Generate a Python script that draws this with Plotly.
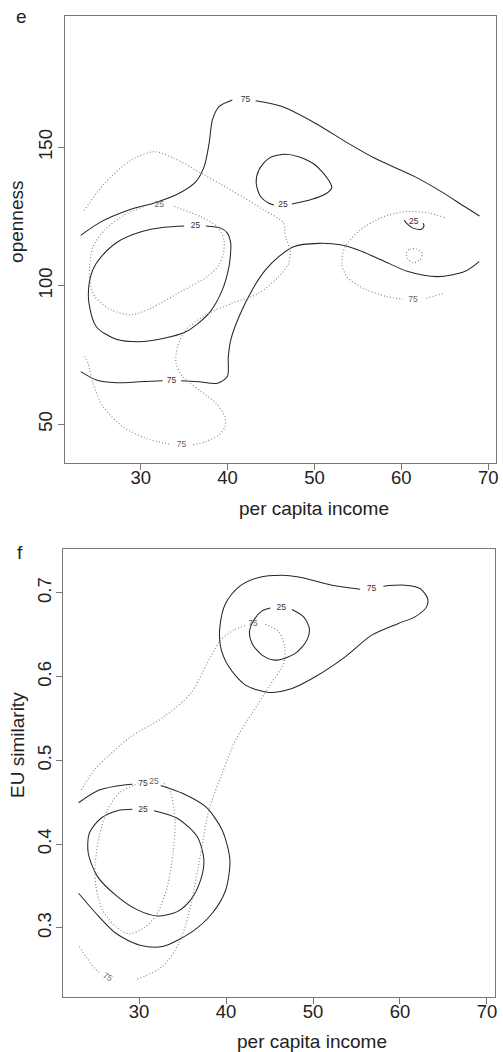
import plotly.graph_objects as go

# ---------------- Panel e: openness vs per capita income ----------------
# solid contours (group 1)
e_s75_top_x = [23.09, 25.27, 28.7, 31.76, 34.43, 36.35, 37.30, 37.87, 38.25, 39.01, 40.54, None,
               43.22, 46.27, 50.09, 53.9, 56.96, 61.55, 64.59, 67.27, 69.0]
e_s75_top_y = [118.2, 122.8, 127.4, 130.1, 133.4, 137.6, 143.0, 151.4, 159.9, 164.7, 167.1, None,
               166.8, 164.7, 158.7, 151.4, 146.0, 139.4, 134.0, 128.6, 125.2]

e_s25_mid_x = [47.41, 49.70, 51.42, 51.99, 51.62, 50.09, 48.18, 46.46, 44.74, 43.60, 43.29, 43.79, 44.74, 45.31]
e_s25_mid_y = [129.5, 131.2, 133.4, 135.4, 138.2, 143.6, 146.6, 147.5, 146.0, 141.8, 137.0, 132.2, 129.8, 129.2]

e_s25_left_x = [37.49, 39.21, 39.97, 40.36, 40.36, 40.16, 39.39, 37.87, 35.2, 32.14, 29.85, 27.18, 24.89,
                24.04, 24.04, 24.47, 25.46, 27.37, 30.05, 32.71, 35.0]
e_s25_left_y = [121.6, 120.8, 119.0, 115.3, 112.9, 106.9, 98.5, 90.1, 83.4, 80.7, 79.8, 80.7, 85.2,
                93.7, 100.3, 105.7, 110.5, 115.9, 119.5, 121.1, 121.6]

e_s75_low_x = [23.09, 24.89, 27.18, 29.85, 32.52, None, 34.63, 36.72, 38.82, 39.97, 40.08, 40.36, 41.31,
               42.83, 44.36, 45.89, 47.6, 50.47, 53.14, 55.05, 57.72, 60.77, 64.2, 67.27, 68.97]
e_s75_low_y = [69.0, 66.0, 65.0, 65.3, 65.7, None, 65.7, 65.3, 64.8, 67.2, 74.4, 80.4, 88.8,
               98.5, 105.7, 110.5, 114.1, 115.3, 114.7, 112.9, 109.3, 105.1, 103.3, 105.1, 108.7]

e_s25_small_x = [60.33, 60.67, 61.35, 62.3, 62.61, 62.5]
e_s25_small_y = [123.7, 122.3, 120.8, 120.4, 121.6, 122.6]

# dotted contours (group 2)
e_d75_big_x = [23.47, 25.84, 28.9, 31.57, 33.86, 37.30, 40.36, 44.17, 46.46, 46.65, 47.23, 47.03, 45.89,
               43.6, 40.54, 37.49, 35.2, 34.24, 34.06, 34.81, 36.72, 38.64, 39.7, 39.7, 39.01, 37.49,
               35.96, None, 33.29, 30.62, 27.94, 25.65, 24.5, 23.93, 23.55]
e_d75_big_y = [127.1, 137.0, 145.4, 148.4, 146.0, 140.0, 134.6, 127.4, 122.6, 117.7, 112.9, 108.1, 103.3,
               97.3, 93.7, 89.5, 84.0, 78.0, 72.0, 67.2, 62.4, 57.6, 52.7, 49.1, 46.1, 43.7,
               42.5, None, 42.8, 44.9, 49.1, 56.4, 64.8, 72.0, 74.4]

e_d25_left_x = [33.86, 36.92, 38.82, 39.59, 39.51, 39.01, 37.67, 34.63, 31.19, 28.9, 26.61, 24.7,
                24.12, 24.12, 24.5, 25.84, 28.13, 30.42]
e_d25_left_y = [128.6, 124.9, 121.3, 116.5, 111.7, 107.5, 103.3, 97.9, 91.9, 89.5, 91.3, 96.1,
                102.1, 106.9, 114.1, 120.1, 125.6, 128.6]

e_d75_right_x = [64.98, 63.26, 60.58, 57.92, 55.25, 53.53, 53.14, 53.71, 55.62, 58.29, 60.2, None, 62.88, 64.98]
e_d75_right_y = [124.6, 126.2, 126.8, 124.9, 120.1, 114.1, 108.1, 103.3, 99.1, 96.1, 95.1, None, 95.5, 97.3]

e_d_small_x = [60.58, 60.97, 61.8, 62.42, 62.12, 61.35, 60.67, 60.58]
e_d_small_y = [111.7, 113.2, 113.2, 111.5, 109.3, 108.3, 109.9, 111.7]

# contour labels panel e
e_solid_lab_x = [42.07, 46.38, 36.3, 33.55, 61.43]
e_solid_lab_y = [167.1, 129.2, 121.6, 65.7, 123.0]
e_solid_lab_t = ["75", "25", "25", "75", "25"]
e_dot_lab_x = [34.7, 32.14, 61.35]
e_dot_lab_y = [42.5, 129.2, 94.9]
e_dot_lab_t = ["75", "25", "75"]

# ---------------- Panel f: EU similarity vs per capita income ----------------
f_s75_top_x = [58.1, 60.58, 62.3, 63.18, 63.06, 61.73, 59.82, 56.75, 53.7, 50.26, 47.58, 44.91, 42.24,
               40.32, 39.37, 39.29, 39.94, 41.47, 43.76, 46.43, 48.35, 52.17, 55.42]
f_s75_top_y = [0.7080, 0.7092, 0.7053, 0.6933, 0.6833, 0.6714, 0.6635, 0.6495, 0.6236, 0.5998, 0.5859,
               0.5811, 0.5899, 0.6117, 0.6356, 0.6594, 0.6874, 0.7072, 0.7184, 0.7211, 0.7191, 0.7092, 0.7044]

f_s25_top_x = [47.58, 48.92, 49.58, 49.3, 47.97, 45.68, 44.14, 42.99, 42.69, 43.19, 44.14, 45.1]
f_s25_top_y = [0.6802, 0.6714, 0.6575, 0.6436, 0.6277, 0.6197, 0.6257, 0.6396, 0.6535, 0.6674, 0.6785, 0.6821]

f_s75_low_x = [23.04, 25.41, 28.47, 29.23, None, 32.49, 34.97, 37.65, 39.55, 40.44, 39.94, 38.41,
               36.11, 32.67, 30.0, 27.33, 25.03, 23.04]
f_s75_low_y = [0.4494, 0.4646, 0.4709, 0.4714, None, 0.4700, 0.4606, 0.4446, 0.4168, 0.3810, 0.3446,
               0.3174, 0.2955, 0.2776, 0.2796, 0.2935, 0.3174, 0.3413]

f_s25_low_x = [31.72, 34.39, 36.69, 37.45, 37.08, 35.93, 34.39, 32.1, 29.81, 27.51, 25.22, 24.15,
               24.27, 25.61, 27.51, 29.23]
f_s25_low_y = [0.4399, 0.4308, 0.4088, 0.3810, 0.3572, 0.3333, 0.3193, 0.3142, 0.3214, 0.3372, 0.3611,
               0.3890, 0.4129, 0.4308, 0.4399, 0.4415]

f_d25_x = [32.87, 33.64, 34.13, 33.9, 33.25, 32.1, 30.77, 28.85, 27.33, 25.79, 25.03, 24.95, 25.41,
           26.36, 27.71, 29.43, 29.9]
f_d25_y = [0.4726, 0.4606, 0.4288, 0.3890, 0.3492, 0.3174, 0.3014, 0.2927, 0.3014, 0.3214, 0.3492,
           0.3771, 0.4088, 0.4407, 0.4610, 0.4705, 0.4722]

f_d75_big_x = [23.35, 24.84, 26.36, 29.05, 32.87, 35.93, 37.83, 39.37, 40.89, 42.39, None, 44.53, 46.06,
               46.74, 46.63, 44.91, 42.99, 41.09, 39.55, 38.03, 36.88, 35.73, 34.59, 32.67, 29.81]
f_d75_big_y = [0.4646, 0.4885, 0.5043, 0.5282, 0.5520, 0.5800, 0.6158, 0.6436, 0.6555, 0.6615, None,
               0.6626, 0.6535, 0.6356, 0.6158, 0.5878, 0.5561, 0.5242, 0.4845, 0.4407, 0.3771, 0.3174,
               0.2816, 0.2537, 0.2387]

f_d75_small_x = [23.12, 23.9, 24.82, 25.4]
f_d75_small_y = [0.2776, 0.2653, 0.2522, 0.2470]

f_solid_lab_x = [56.72, 46.36, 30.46, 30.46]
f_solid_lab_y = [0.7053, 0.6821, 0.4714, 0.4407]
f_solid_lab_t = ["75", "25", "75", "25"]
f_dot_lab_x = [31.72, 43.11, 26.45]
f_dot_lab_y = [0.4745, 0.6626, 0.2411]
f_dot_lab_t = ["25", "75", "75"]

x_ticks = [30, 40, 50, 60, 70]
e_y_ticks = [50, 100, 150]
f_y_ticks = [0.3, 0.4, 0.5, 0.6, 0.7]

SOLID = dict(color="#262626", width=1.05, shape="spline", smoothing=0.8)
DOTTED = dict(color="#8a8a8a", width=1.2, dash="1px,2.2px", shape="spline", smoothing=0.8)
FONT = "Liberation Sans, Arial, Helvetica, sans-serif"

fig = go.Figure()

def add(x, y, line, xa, ya):
    fig.add_trace(go.Scatter(x=x, y=y, mode="lines", line=line, xaxis=xa, yaxis=ya,
                             showlegend=False, hoverinfo="skip", connectgaps=False))

for xs, ys in [(e_s75_top_x, e_s75_top_y), (e_s25_mid_x, e_s25_mid_y), (e_s25_left_x, e_s25_left_y),
               (e_s75_low_x, e_s75_low_y), (e_s25_small_x, e_s25_small_y)]:
    add(xs, ys, SOLID, "x", "y")
for xs, ys in [(e_d75_big_x, e_d75_big_y), (e_d25_left_x, e_d25_left_y),
               (e_d75_right_x, e_d75_right_y), (e_d_small_x, e_d_small_y)]:
    add(xs, ys, DOTTED, "x", "y")
for xs, ys in [(f_s75_top_x, f_s75_top_y), (f_s25_top_x, f_s25_top_y),
               (f_s75_low_x, f_s75_low_y), (f_s25_low_x, f_s25_low_y)]:
    add(xs, ys, SOLID, "x2", "y2")
for xs, ys in [(f_d25_x, f_d25_y), (f_d75_big_x, f_d75_big_y), (f_d75_small_x, f_d75_small_y)]:
    add(xs, ys, DOTTED, "x2", "y2")

# contour labels as text traces
def labels(x, y, t, color, xa, ya):
    fig.add_trace(go.Scatter(x=x, y=y, text=t, mode="text", textposition="middle center",
                             textfont=dict(size=8.5, color=color, family=FONT),
                             xaxis=xa, yaxis=ya, showlegend=False, hoverinfo="skip"))

labels(e_solid_lab_x, e_solid_lab_y, e_solid_lab_t, "#333333", "x", "y")
labels(e_dot_lab_x, e_dot_lab_y, e_dot_lab_t, "#666666", "x", "y")
labels(f_solid_lab_x, f_solid_lab_y, f_solid_lab_t, "#333333", "x2", "y2")
labels(f_dot_lab_x[:2], f_dot_lab_y[:2], f_dot_lab_t[:2], "#666666", "x2", "y2")
# the rotated dotted label
fig.add_annotation(x=f_dot_lab_x[2], y=f_dot_lab_y[2], text=f_dot_lab_t[2], xref="x2", yref="y2",
                   showarrow=False, textangle=30, font=dict(size=8.5, color="#666666", family=FONT))

axis_common = dict(showgrid=False, zeroline=False, showline=True, mirror=True, linecolor="#777777",
                   linewidth=1, ticks="outside", ticklen=6, tickcolor="#777777", tickwidth=1,
                   tickfont=dict(size=18.5, color="#222222", family=FONT))

fig.update_layout(
    width=503, height=1052, margin=dict(l=0, r=0, t=0, b=0),
    paper_bgcolor="white", plot_bgcolor="white",
    xaxis=dict(domain=[0.1292, 0.9901], range=[21.25, 70.9], tickvals=x_ticks, anchor="y",
               ticklabelstandoff=-8, **axis_common),
    yaxis=dict(domain=[0.5599, 0.9848], range=[36.0, 197.4], tickvals=e_y_ticks, tickangle=-90,
               anchor="x", ticklabelstandoff=-2, **axis_common),
    xaxis2=dict(domain=[0.1258, 0.9875], range=[21.25, 70.9], tickvals=x_ticks, anchor="y2",
                ticklabelstandoff=-8, **axis_common),
    yaxis2=dict(domain=[0.0520, 0.4778], range=[0.217, 0.752], tickvals=f_y_ticks, tickangle=-90,
                anchor="x2", ticklabelstandoff=-2, **axis_common),
)

title_font = dict(size=19, color="#222222", family=FONT)
fig.add_annotation(text="per capita income", x=315 / 503, y=1 - 508 / 1052, xref="paper", yref="paper",
                   showarrow=False, font=title_font, xanchor="center", yanchor="middle")
fig.add_annotation(text="per capita income", x=313 / 503, y=1 - 1041 / 1052, xref="paper", yref="paper",
                   showarrow=False, font=title_font, xanchor="center", yanchor="middle")
fig.add_annotation(text="openness", x=17 / 503, y=1 - 222 / 1052, xref="paper", yref="paper",
                   showarrow=False, font=title_font, textangle=-90, xanchor="center", yanchor="middle")
fig.add_annotation(text="EU similarity", x=17 / 503, y=1 - 745 / 1052, xref="paper", yref="paper",
                   showarrow=False, font=title_font, textangle=-90, xanchor="center", yanchor="middle")
fig.add_annotation(text="e", x=22 / 503, y=1 - 16 / 1052, xref="paper", yref="paper",
                   showarrow=False, font=title_font, xanchor="center", yanchor="middle")
fig.add_annotation(text="f", x=20 / 503, y=1 - 552 / 1052, xref="paper", yref="paper",
                   showarrow=False, font=title_font, xanchor="center", yanchor="middle")

fig.write_html("out.html", config={"displayModeBar": False},
               post_script="document.body.style.margin='0';document.body.style.overflow='hidden';")
